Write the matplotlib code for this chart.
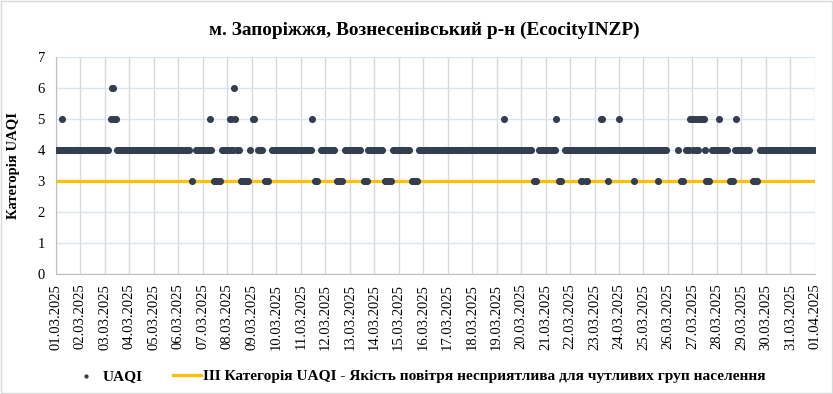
import matplotlib
matplotlib.use("Agg")
import matplotlib.pyplot as plt
import matplotlib.dates as mdates
from matplotlib.patches import Rectangle
import pandas as pd

plt.rcParams['font.family'] = ['Liberation Serif', 'DejaVu Serif']

# hourly UAQI category per day, 01.03.2025 ... 31.03.2025
# four groups of 6 hours each, '-' = no measurement
start_date = "2025-03-01"
uaqi_days = [
    "444444 544444 444444 444444",  # 01.03
    "444444 444444 444444 444444",  # 02.03
    "4444-- 566555 444444 444444",  # 03.03
    "444444 444444 444444 444444",  # 04.03
    "444444 444444 444444 444444",  # 05.03
    "444444 44444- -3---4 444444",  # 06.03
    "444444 454--3 333333 -44444",  # 07.03
    "444554 465444 -33333 333-4-",  # 08.03
    "-55--- 44444- -3333- --4444",  # 09.03
    "444444 444444 444444 444444",  # 10.03
    "444444 444445 --333- --4444",  # 11.03
    "444444 4444-- 33333- -44444",  # 12.03
    "444444 44444- --3333 444444",  # 13.03
    "444444 444--3 33333- 444444",  # 14.03
    "444444 44444- -33333 3-4444",  # 15.03
    "444444 444444 444444 444444",  # 16.03
    "444444 444444 444444 444444",  # 17.03
    "444444 444444 444444 444444",  # 18.03
    "444444 454444 444444 444444",  # 19.03
    "444444 44444- -333-- 444444",  # 20.03
    "444444 44445- -333-- -44444",  # 21.03
    "444444 444443 344433 444444",  # 22.03
    "444444 554444 434444 444444",  # 23.03
    "544444 444444 444344 444444",  # 24.03
    "444444 444444 443444 44444-",  # 25.03
    "------ ----4- -333-- 444455",  # 26.03
    "545454 555555 43333- -44444",  # 27.03
    "445444 44444- -3333- 454444",  # 28.03
    "444444 44---3 3333-- 444444",  # 29.03
    "444444 444444 444444 444444",  # 30.03
    "444444 444444 444444 444444",  # 31.03
]
threshold = 3
title = "м. Запоріжжя, Вознесенівський р-н (EcocityINZP)"
series_label = "UAQI"
threshold_label = "ІІІ Категорія UAQI - Якість повітря несприятлива для чутливих груп населення"

hours, values = [], []
for d, day in enumerate(uaqi_days):
    for h, ch in enumerate(day.replace(" ", "")):
        if ch != "-":
            hours.append(d * 24 + h)
            values.append(int(ch))

t0 = pd.Timestamp(start_date)
times = t0 + pd.to_timedelta(hours, unit="h")

fig = plt.figure(figsize=(8.33, 3.94), dpi=100)
ax = fig.add_axes([0.0672, 0.3046, 0.911, 0.5504])

ax.axhline(threshold, color="#ffc000", lw=2.3, zorder=2, label=threshold_label)
ax.scatter(times, values, s=26, color="#333f50", linewidths=0, zorder=3, label=series_label)

ax.set_xlim(t0, t0 + pd.Timedelta(days=len(uaqi_days)))
ax.set_ylim(0, 7)
ax.set_yticks(range(0, 8))
ax.xaxis.set_major_locator(mdates.DayLocator())
ax.xaxis.set_major_formatter(mdates.DateFormatter("%d.%m.%Y"))
ax.tick_params(axis="x", rotation=90, length=0, pad=7, labelsize=10.5)
ax.tick_params(axis="y", length=0, pad=8, labelsize=10.5)

ax.xaxis.grid(True, color="#d9d9d9", lw=1)
ax.yaxis.grid(True, color="#dae3f3", lw=1)
ax.set_axisbelow(True)
for s in ["top", "right"]:
    ax.spines[s].set_visible(False)
for s in ["left", "bottom"]:
    ax.spines[s].set_color("#bfbfbf")

ax.set_ylabel("Категорія UAQI", fontsize=10.5, fontweight="bold")
ax.yaxis.set_label_coords(-0.047, 0.5)

fig.text(424 / 833, 1 - 30 / 394, title, ha="center", va="center",
         fontsize=13.9, fontweight="bold")

h, l = ax.get_legend_handles_labels()
fig.legend(h[::-1], l[::-1], ncol=2, loc="center", bbox_to_anchor=(419 / 833, 1 - 376 / 394),
           frameon=False, handlelength=1.8, handletextpad=0.15, columnspacing=2.0,
           markerscale=0.6, prop={"weight": "bold", "size": 11.1})

fig.add_artist(Rectangle((0.0012, 0.0025), 0.9976, 0.995, transform=fig.transFigure,
                         fill=False, ec="#d9d9d9", lw=1))

fig.savefig("out.png", dpi=100)
